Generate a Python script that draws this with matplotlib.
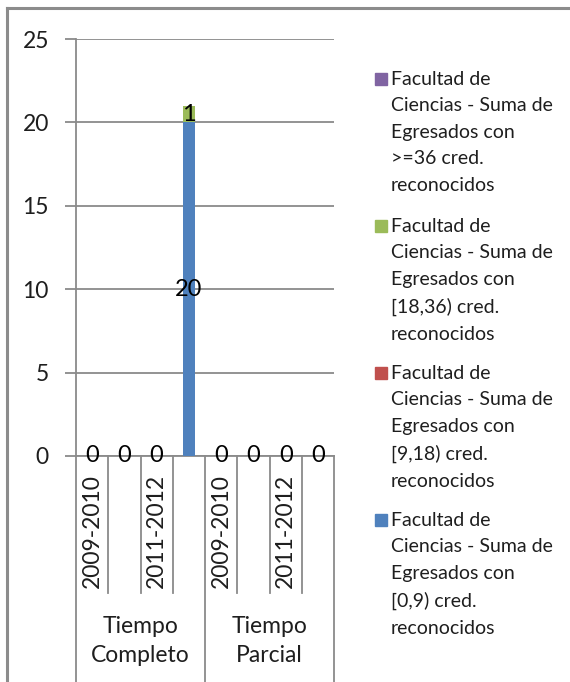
import numpy as np
import matplotlib.pyplot as plt
from matplotlib.patches import Rectangle
from matplotlib.lines import Line2D
from matplotlib.transforms import blended_transform_factory

plt.rcParams['font.family'] = ['Lato', 'DejaVu Sans']

# data
groups = ['Tiempo\nCompleto', 'Tiempo\nParcial']
years = ['2009-2010', '2010-2011', '2011-2012', '2012-2013']
series_names = ['Facultad de\nCiencias - Suma de\nEgresados con\n[0,9) cred.\nreconocidos',
                'Facultad de\nCiencias - Suma de\nEgresados con\n[9,18) cred.\nreconocidos',
                'Facultad de\nCiencias - Suma de\nEgresados con\n[18,36) cred.\nreconocidos',
                'Facultad de\nCiencias - Suma de\nEgresados con\n>=36 cred.\nreconocidos']
colors = ['#4F81BD', '#C0504D', '#9BBB59', '#8064A2']
v_0_9 = [0, 0, 0, 20, 0, 0, 0, 0]
v_9_18 = [0, 0, 0, 0, 0, 0, 0, 0]
v_18_36 = [0, 0, 0, 1, 0, 0, 0, 0]
v_36 = [0, 0, 0, 0, 0, 0, 0, 0]
values = [v_0_9, v_9_18, v_18_36, v_36]

W, H = 570, 682
fig = plt.figure(figsize=(W/100, H/100), dpi=100)

# outer frame (only left and top edges visible)
fig.add_artist(Line2D([7/W, 7/W], [0, 1-8/H], color='#8c8c8c', lw=2.2, transform=fig.transFigure))
fig.add_artist(Line2D([7/W, 1], [1-8/H, 1-8/H], color='#8c8c8c', lw=2.2, transform=fig.transFigure))

ax = fig.add_axes([76/W, 1-456/H, 258/W, 417/H])
n = len(v_0_9)
x = np.arange(n)
bottom = np.zeros(n)
for vals, c in zip(values, colors):
    vals = np.array(vals)
    ax.bar(x, vals, 0.37, bottom=bottom, color=c, zorder=3)
    for i in range(n):
        if vals[i] > 0:
            ax.text(x[i], bottom[i] + vals[i]/2, str(vals[i]), ha='center', va='center',
                    fontsize=17, color='black', zorder=4)
    bottom += vals
for i in range(n):
    if bottom[i] == 0:
        ax.text(x[i], 0, '0', ha='center', va='center', fontsize=17, color='black', zorder=4)

ax.set_xlim(-0.5, n-0.5)
ax.set_ylim(0, 25)
ax.set_yticks([0, 5, 10, 15, 20, 25])
ax.set_xticks([])
ax.yaxis.grid(True, color='#8a8a8a', lw=1.3, zorder=0)
ax.tick_params(axis='y', length=8, width=1.3, color='#8a8a8a', pad=11.5, labelsize=16.5, labelcolor='#1e1e1e')
for s in ['top', 'right']:
    ax.spines[s].set_visible(False)
ax.spines['left'].set_color('#8a8a8a')
ax.spines['left'].set_linewidth(1.3)
ax.spines['bottom'].set_color('#8a8a8a')
ax.spines['bottom'].set_linewidth(1.3)
ax.spines['bottom'].set_zorder(1)

# multi-level category axis
tr = blended_transform_factory(ax.transData, fig.transFigure)
for k in range(n+1):
    xb = k - 0.5
    y_end = 0 if k % len(years) == 0 else 1-593/H
    ax.add_line(Line2D([xb, xb], [1-456/H, y_end], color='#8a8a8a', lw=1.3,
                       transform=tr, clip_on=False))
for g, gname in enumerate(groups):
    for j, yr in enumerate(years):
        if j % 2 == 0:
            ax.text(g*len(years)+j, 1-474/H, yr, rotation=90, ha='center', va='top',
                    fontsize=16.5, color='#1e1e1e', transform=tr)
    ax.text(g*len(years)+1.5, 1-616/H, gname, ha='center', va='top', fontsize=16.5,
            color='#1e1e1e', linespacing=1.45, transform=tr)

# legend (reversed order, like the original)
y0 = 72
for name, c in zip(series_names[::-1], colors[::-1]):
    fig.add_artist(Rectangle((375/W, 1-(y0+13)/H), 12/W, 12/H, color=c, transform=fig.transFigure))
    fig.text(391/W, 1-(y0-1)/H, name, ha='left', va='top', fontsize=14,
             color='#1e1e1e', linespacing=1.67)
    y0 += 147

fig.savefig('out.png', dpi=100)
